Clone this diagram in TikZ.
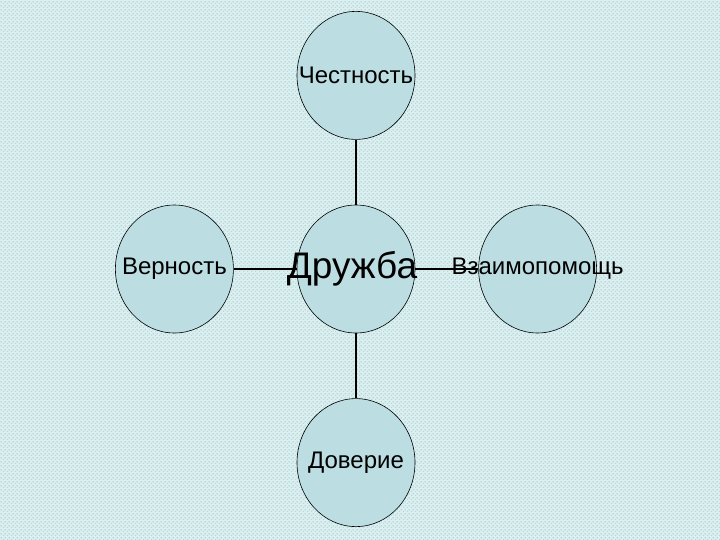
\documentclass[tikz,border=0pt]{standalone}
\usepackage{fontspec}
\setmainfont{Liberation Sans}
\usetikzlibrary{shapes.geometric,positioning,patterns}
\definecolor{bubblefill}{RGB}{188,222,226}
\definecolor{pagebg}{RGB}{220,239,240}
\definecolor{pagedots}{RGB}{180,214,216}
\pgfdeclarepatternformonly{pagechecks}{\pgfpointorigin}{\pgfpoint{4pt}{4pt}}{\pgfpoint{4pt}{4pt}}{%
  \pgfpathrectangle{\pgfpointorigin}{\pgfpoint{1.5pt}{1.5pt}}%
  \pgfpathrectangle{\pgfpoint{2pt}{2pt}}{\pgfpoint{1.5pt}{1.5pt}}%
  \pgfusepath{fill}}
\pgfdeclarelayer{bg}
\pgfdeclarelayer{edges}
\pgfsetlayers{bg,edges,main}

\begin{document}
\begin{tikzpicture}[x=1pt, y=-1pt,
      bubble/.style = {ellipse, draw, line width=0.6pt, fill=bubblefill,
                       minimum width=118pt, minimum height=128pt, inner sep=0pt},
      small/.style = {font=\fontsize{24}{28}\selectfont},
      big/.style = {font=\fontsize{37}{40}\selectfont},
      link/.style = {line width=1.6pt}]
      \useasboundingbox (0,0) rectangle (720,540);
      \begin{pgfonlayer}{bg}
      \fill[pagebg] (0,0) rectangle (720,540);
      \fill[pattern=pagechecks, pattern color=pagedots] (0,0) rectangle (720,540);
      \end{pgfonlayer}
      \node[bubble, label={[big, xshift=-4pt]center:Дружба}] (druzhba) at (356,269) {};
      \node[bubble, above=65pt of druzhba, label={[small]center:Честность}] (chestnost) {};
      \node[bubble, below=65pt of druzhba, label={[small]center:Доверие}] (doverie) {};
      \node[bubble, left=63pt of druzhba, label={[small]center:Верность}] (vernost) {};
      \node[bubble, right=63pt of druzhba, label={[small]center:Взаимопомощь}] (vzaimo) {};
      \begin{pgfonlayer}{edges}
      \draw[link] (chestnost) -- (druzhba);
      \draw[link] (druzhba) -- (doverie);
      \draw[link] (vernost) -- (druzhba);
      \draw[link] (druzhba) -- (vzaimo);
      \end{pgfonlayer}
\end{tikzpicture}
\end{document}
